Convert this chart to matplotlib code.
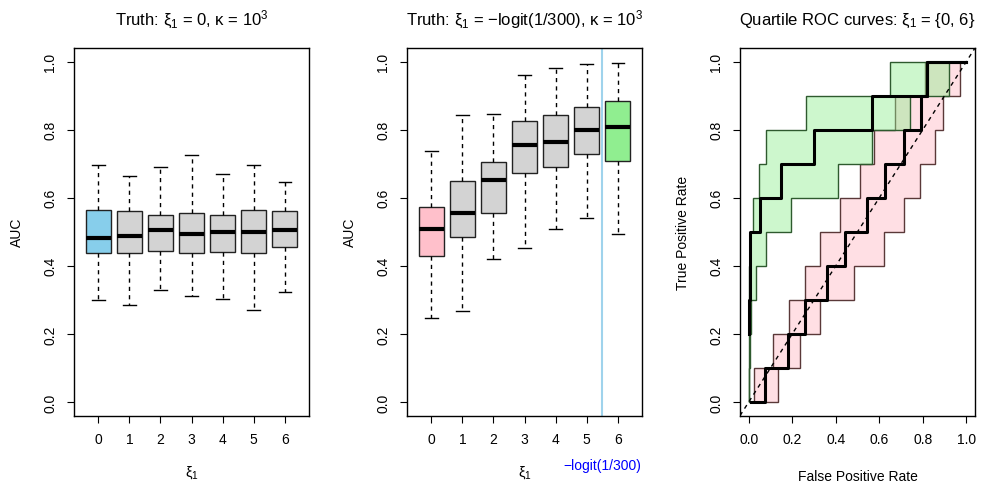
## AUC boxplots and quartile ROC curves

import numpy as np
import matplotlib
matplotlib.use('Agg')
import matplotlib.pyplot as plt
import matplotlib.transforms as mtransforms

plt.rcParams['font.family'] = ['Liberation Sans', 'DejaVu Sans']
plt.rcParams['mathtext.fontset'] = 'custom'
plt.rcParams['mathtext.rm'] = 'Liberation Sans'
plt.rcParams['mathtext.it'] = 'Liberation Sans'
plt.rcParams['mathtext.bf'] = 'Liberation Sans:bold'

## Data

xi = [0, 1, 2, 3, 4, 5, 6]

# panel 1: truth xi_1 = 0
null_whislo = [0.300, 0.286, 0.330, 0.310, 0.304, 0.269, 0.324]
null_q1     = [0.438, 0.438, 0.443, 0.437, 0.440, 0.437, 0.455]
null_med    = [0.482, 0.489, 0.504, 0.494, 0.499, 0.499, 0.506]
null_q3     = [0.563, 0.561, 0.549, 0.554, 0.549, 0.565, 0.561]
null_whishi = [0.695, 0.663, 0.689, 0.725, 0.671, 0.697, 0.645]

# panel 2: truth xi_1 = -logit(1/300)
alt_whislo = [0.246, 0.266, 0.420, 0.453, 0.507, 0.540, 0.495]
alt_q1     = [0.430, 0.485, 0.554, 0.672, 0.690, 0.729, 0.709]
alt_med    = [0.507, 0.555, 0.651, 0.754, 0.763, 0.800, 0.808]
alt_q3     = [0.573, 0.650, 0.706, 0.826, 0.843, 0.868, 0.884]
alt_whishi = [0.736, 0.844, 0.846, 0.960, 0.980, 0.992, 0.996]

truth_line = 5.5

# panel 3: quartile ROC curves (FPR breakpoints, TPR after each breakpoint)
tpr_full = [0.0, 0.1, 0.2, 0.3, 0.4, 0.5, 0.6, 0.7, 0.8, 0.9, 1.0, 1.0]

g_upper_fpr = [0, 0.0, 0.0, 0.002, 0.003, 0.005, 0.02, 0.045, 0.078, 0.265, 0.647, 1.0]
g_lower_fpr = [0, 0.0, 0.005, 0.012, 0.035, 0.08, 0.193, 0.412, 0.566, 0.74, 0.92, 1.0]
g_med_fpr   = [0, 0.002, 0.004, 0.006, 0.05, 0.15, 0.30, 0.565, 0.82, 1.0]
g_med_tpr   = [0.2, 0.3, 0.4, 0.5, 0.6, 0.7, 0.8, 0.9, 1.0, 1.0]

p_upper_fpr = [0, 0.023, 0.11, 0.183, 0.26, 0.326, 0.418, 0.512, 0.574, 0.67, 0.81, 1.0]
p_lower_fpr = [0, 0.134, 0.235, 0.328, 0.485, 0.623, 0.712, 0.786, 0.858, 0.894, 0.97, 1.0]
p_med_fpr   = [0.01, 0.075, 0.18, 0.257, 0.361, 0.442, 0.543, 0.628, 0.715, 0.79, 0.82, 1.0]

labels01 = ['0.0', '0.2', '0.4', '0.6', '0.8', '1.0']


def stepverts(x, y):
    vx, vy = [x[0]], [y[0]]
    for i in range(1, len(x)):
        vx += [x[i], x[i]]
        vy += [y[i - 1], y[i]]
    return np.array(vx), np.array(vy)


def boxes(ax, lo, q1, med, q3, hi, colors):
    stats = [dict(whislo=a, q1=b, med=c, q3=d, whishi=e, fliers=[])
             for a, b, c, d, e in zip(lo, q1, med, q3, hi)]
    bp = ax.bxp(stats, positions=xi, widths=0.8, capwidths=0.4,
                patch_artist=True, showfliers=False,
                boxprops=dict(edgecolor='#222222', linewidth=1),
                medianprops=dict(color='black', linewidth=3, solid_capstyle='butt'),
                whiskerprops=dict(color='black', linewidth=1, linestyle=(0, (3, 3))),
                capprops=dict(color='black', linewidth=1))
    for patch, c in zip(bp['boxes'], colors):
        patch.set_facecolor(c)
    ax.set_xlim(-0.78, 6.78)
    ax.set_xticks(xi)
    ax.set_ylim(-0.04, 1.04)
    ax.set_yticks([0.0, 0.2, 0.4, 0.6, 0.8, 1.0])
    ax.set_yticklabels(labels01, rotation=90, va='center')
    ax.set_xlabel(r'$\xi_1$', fontsize=10.5, labelpad=12)
    ax.set_ylabel('AUC', fontsize=10, labelpad=14)


def style(ax):
    ax.tick_params(direction='out', length=5, width=0.8, labelsize=10, pad=7, color='black')
    for s in ax.spines.values():
        s.set_linewidth(1.0)


fig = plt.figure(figsize=(9.82, 4.85), dpi=100)
ax1 = fig.add_axes([0.0754, 0.141, 0.2393, 0.758])
ax2 = fig.add_axes([0.4145, 0.141, 0.2393, 0.758])
ax3 = fig.add_axes([0.7536, 0.141, 0.2393, 0.758])

## Panel 1

boxes(ax1, null_whislo, null_q1, null_med, null_q3, null_whishi,
      ['skyblue'] + ['lightgray'] * 6)
ax1.set_title(r'Truth: $\xi_1$ = 0, $\kappa$ = 10$^3$', fontsize=12, pad=17)
style(ax1)

## Panel 2

boxes(ax2, alt_whislo, alt_q1, alt_med, alt_q3, alt_whishi,
      ['pink'] + ['lightgray'] * 5 + ['lightgreen'])
ax2.axvline(truth_line, color='#9fd3ec', linewidth=1.5, zorder=0.5)
trans = mtransforms.blended_transform_factory(ax2.transData, ax2.transAxes)
ax2.text(truth_line, -0.135, '\u2212logit(1/300)', color='blue', fontsize=10,
         ha='center', va='center', transform=trans)
ax2.set_title(r'Truth: $\xi_1$ = $-$logit(1/300), $\kappa$ = 10$^3$', fontsize=12, pad=17)
style(ax2)

## Panel 3

for up, lo, fc, ec in [
        (p_upper_fpr, p_lower_fpr, (1.0, 0.753, 0.796, 0.5), '#5a3838'),
        (g_upper_fpr, g_lower_fpr, (0.565, 0.933, 0.565, 0.45), '#2e5a2e')]:
    ux, uy = stepverts(up, tpr_full)
    lx, ly = stepverts(lo, tpr_full)
    ax3.fill(np.concatenate([ux, lx[::-1]]), np.concatenate([uy, ly[::-1]]),
             facecolor=fc, edgecolor=ec, linewidth=1)
for med_x, med_y in [(p_med_fpr, tpr_full), (g_med_fpr, g_med_tpr)]:
    mx, my = stepverts(med_x, med_y)
    ax3.plot(mx, my, color='black', linewidth=2.2)

ax3.axline((0, 0), (1, 1), color='black', linewidth=1, linestyle=(0, (3, 3)))
ax3.set_xlim(-0.04, 1.04)
ax3.set_ylim(-0.04, 1.04)
ticks = [0.0, 0.2, 0.4, 0.6, 0.8, 1.0]
ax3.set_xticks(ticks)
ax3.set_xticklabels(labels01)
ax3.set_yticks(ticks)
ax3.set_yticklabels(labels01, rotation=90, va='center')
ax3.set_xlabel('False Positive Rate', fontsize=10, labelpad=16)
ax3.set_ylabel('True Positive Rate', fontsize=10, labelpad=14)
ax3.set_title(r'Quartile ROC curves: $\xi_1$ = {0, 6}', fontsize=12, pad=17)
style(ax3)

fig.savefig('out.png', dpi=100)
